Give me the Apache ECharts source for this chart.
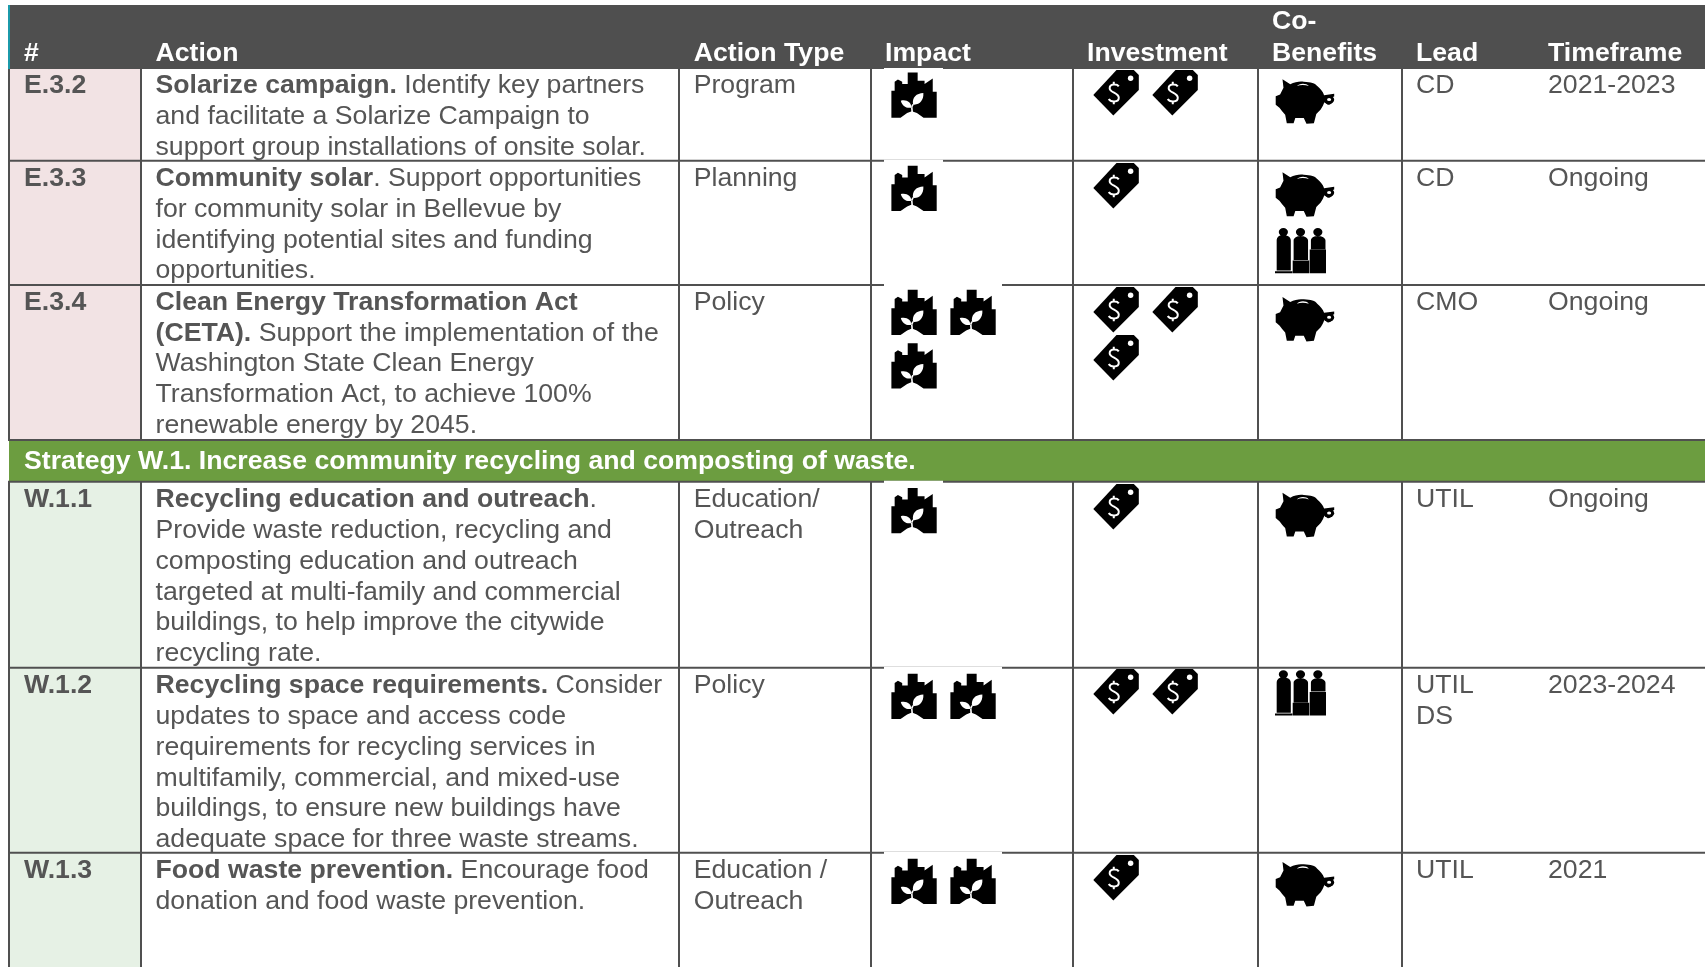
<!DOCTYPE html>
<html>
<head>
<meta charset="utf-8">
<style>html,body{margin:0;padding:0;background:#fff}#c{width:1705px;height:967px}</style>
<script src="https://cdn.jsdelivr.net/npm/echarts@6/dist/echarts.min.js"></script>
</head>
<body>
<div id="c"></div>
<script>
// ---- content ----
const headers = [['#'],['Action'],['Action Type'],['Impact'],['Investment'],['Co-','Benefits'],['Lead'],['Timeframe']];
const ids = ['E.3.2','E.3.3','E.3.4','W.1.1','W.1.2','W.1.3'];
const actions = [
  [['Solarize campaign.',' Identify key partners'],['','and facilitate a Solarize Campaign to'],['','support group installations of onsite solar.']],
  [['Community solar','. Support opportunities'],['','for community solar in Bellevue by'],['','identifying potential sites and funding'],['','opportunities.']],
  [['Clean Energy Transformation Act',''],['(CETA).',' Support the implementation of the'],['','Washington State Clean Energy'],['','Transformation Act, to achieve 100%'],['','renewable energy by 2045.']],
  [['Recycling education and outreach','.'],['','Provide waste reduction, recycling and'],['','composting education and outreach'],['','targeted at multi-family and commercial'],['','buildings, to help improve the citywide'],['','recycling rate.']],
  [['Recycling space requirements.',' Consider'],['','updates to space and access code'],['','requirements for recycling services in'],['','multifamily, commercial, and mixed-use'],['','buildings, to ensure new buildings have'],['','adequate space for three waste streams.']],
  [['Food waste prevention.',' Encourage food'],['','donation and food waste prevention.']]
];
const actionTypes = [['Program'],['Planning'],['Policy'],['Education/','Outreach'],['Policy'],['Education /','Outreach']];
const impactCounts = [1,1,3,1,2,2];
const investmentCounts = [2,1,3,1,2,1];
const coBenefits = [['pig'],['pig','people'],['pig'],['pig'],['people'],['pig']];
const leads = [['CD'],['CD'],['CMO'],['UTIL'],['UTIL','DS'],['UTIL']];
const timeframes = ['2021-2023','Ongoing','Ongoing','Ongoing','2023-2024','2021'];
const bandTitle = 'Strategy W.1. Increase community recycling and composting of waste.';

// ---- layout (canvas space of the hidden axes) ----
const W = 1705, H = 967;
const colX = [9,141,679,871,1073,1258,1402,1534];
const textX = [24,155.5,693.7,885,1087,1272,1416,1548];
const headTop = 5, headBottom = 69;
const rowTop = [69,160.7,285,481.7,667.7,852.7];
const rowBottom = [160.7,285,440,667.7,852.7,967];
const bandTop = 440, bandBottom = 481.7;
const lineGap = 30.8;
const firstLine = [16.9,18,17.4,18.2,18.2,18.2];
const impactDy = [2.7,4.3,4,5.5,5.3,5.3];
const investDy = [1,2.3,2,2.3,1.3,2.3];
const pigDy = [10.3,11.6,12,11,0,9.3];
const peopleDy = [0,67,0,0,2.3,0];
const C = {head:'#4f4f4f', teal:'#1b9aaa', line:'#505050', text:'#555555', pink:'#f2e3e4', green:'#e6f1e5', band:'#6c9d40'};
const FF = '"Liberation Sans", Arial, sans-serif';
const FS = 26.67;

// ---- icon shapes (each in a 0-100 box; the zero-length anchors fix the box) ----
const A = 'M0 0L0 0M100 100L100 100';
const circle = (x,y,r)=>`M${x-r} ${y}A${r} ${r} 0 1 1 ${x+r} ${y}A${r} ${r} 0 1 1 ${x-r} ${y}Z`;
const ICON = {
  city:{w:46,h:46,black:A+'M1.5 100L1.5 41.6L8.6 41.6L8.6 21.9L15.7 16.8L25 21.9L25 27L37 27L37 1.5L58.6 1.5L58.6 19.7L73.6 19.7L73.6 27L91.4 14.6L91.4 43.8L100 43.8L100 100L71.4 100L57 90L46 86L35.7 90L21.4 100Z',
    white:A+'M48.6 71.5C46 56 56 47 71 46.5C72 62 63 73 48.6 71.5ZM22 63C35 60 45 67 45 78C34 80 25 75 22 63ZM47 70L44 76L45 88L48.5 88L47.5 77L50 72Z'},
  tag:{w:45.5,h:45.5,black:A+'M51 0L89 0L100 11L100 44L44 100L0 55Z',
    white:A+circle(82,18,6),
    stroke:A+'M56 36C52 30 36 30 36 40C36 50 56 50 56 61C56 72 38 71 34 64M45 26L45 33M45 69L45 75'},
  pig:{w:58.5,h:44.5,black:A+'M11.6 0L24.9 11.4C33 5 42 4 48 5.3C60 6 68 9 71 15C76 20 81 28 82.7 35.6L100 32.6L100 38.6L97.7 40C98 46 97 50 96 53C93 57 90 58 88.4 56.8C86 55 85 51 84.4 47.7C82 56 80 62 76.9 68L69.4 78L65.3 98.5L52.6 100L48 87L33.5 87L30.6 98.5L19 98.5L16.2 79.5C12 74 9 68 6.4 64L0 57L0 38L7.5 34L13.3 19Z',
    extra:A+circle(91,46,9.5),
    white:A+circle(91.3,45.5,3.5)+'M36.4 15C39 9 52 7 56.6 15C50 12 42 12 36.4 15Z'},
  people:{w:51,h:45.6,black:A+circle(16.4,9.5,9)+circle(50,9.5,9)+circle(84,9.5,9)
    +'M3.3 94L3.3 28C3.3 20 9 16 16.4 16C25 16 31 21 31 28L31 94Z'
    +'M0 95.5L34 95.5L34 100L0 100Z'
    +'M36.5 71L36.5 28C36.5 22 43 18 50 18C58 18 64.8 22 64.8 28L64.8 71Z'
    +'M34.7 72L67 72L67 100L34.7 100Z'
    +'M70.4 47L70.4 28C70.4 22 76 18 84 18C92 18 99 22 99 28L99 47Z'
    +'M68 48L100 48L100 100L68 100Z', white:null}
};
const ICON_SLOT = 59, TAG_ROW = 48, CITY_ROW = 53.5;

// ---- helpers for the custom series ----
function xy(api,x,y){ return api.coord([x,y]); }
function rect(api,x0,y0,x1,y1,fill){
  const a = xy(api,x0,y0), b = xy(api,x1,y1);
  return {type:'rect',shape:{x:a[0],y:a[1],width:b[0]-a[0],height:b[1]-a[1]},style:{fill}};
}
function label(api,x,y,text,o){
  const p = xy(api,x,y);
  return {type:'text',style:Object.assign({x:p[0],y:p[1],text,fill:C.text,
    font:`${(o&&o.bold)?'bold ':''}${FS}px ${FF}`,verticalAlign:'middle',align:'left'},o&&o.fill?{fill:o.fill}:{})};
}
function richLine(api,x,y,parts){
  const p = xy(api,x,y);
  const t = (parts[0]?`{b|${parts[0]}}`:'')+(parts[1]?`{r|${parts[1]}}`:'');
  return {type:'text',style:{x:p[0],y:p[1],text:t,verticalAlign:'middle',align:'left',
    rich:{b:{fontFamily:FF,fontSize:FS,fontWeight:'bold',fill:C.text},
          r:{fontFamily:FF,fontSize:FS,fontWeight:'normal',fill:C.text}}}};
}
function icon(api,kind,x,y){
  const d = ICON[kind], a = xy(api,x,y), b = xy(api,x+d.w,y+d.h);
  const sh = s=>({pathData:s,x:a[0],y:a[1],width:b[0]-a[0],height:b[1]-a[1],layout:'cover'});
  const out = [{type:'path',shape:sh(d.black),style:{fill:'#000'}}];
  if(d.extra) out.push({type:'path',shape:sh(d.extra),style:{fill:'#000'}});
  if(d.white) out.push({type:'path',shape:sh(d.white),style:{fill:'#fff'}});
  if(d.stroke) out.push({type:'path',shape:sh(d.stroke),style:{fill:'none',stroke:'#fff',lineWidth:2}});
  return out;
}
const grp = children=>({type:'group',children});

// ---- renderers ----
function renderTable(params,api){
  const c = [];
  c.push(rect(api,colX[0],headTop,W,headBottom,C.head));
  c.push(rect(api,8,headTop,10,headBottom,C.teal));
  rowTop.forEach((t,i)=>c.push(rect(api,colX[0],t,colX[1],rowBottom[i],i<3?C.pink:C.green)));
  c.push(rect(api,colX[0],bandTop,W,bandBottom,C.band));
  // rules
  const hl = y=>c.push(rect(api,colX[0]-1,y-1,W,y+1,C.line));
  [rowTop[1],rowTop[2],bandTop,bandBottom,rowTop[4],rowTop[5]].forEach(hl);
  const vl = (x,y0,y1)=>c.push(rect(api,x-1,y0,x+1,y1,C.line));
  colX.slice(0,7).forEach((x,k)=>{
    vl(k===0?9:x,headBottom,bandTop);
    vl(k===0?9:x,bandBottom,H);
  });
  // blank halo round the impact pictures
  rowTop.forEach((t,i)=>{
    const n = Math.min(impactCounts[i],2);
    c.push(rect(api,884,t-1,884+ICON_SLOT*n,t+4,'#fff'));
  });
  return grp(c);
}
function renderRow(params,api){
  const i = api.value(0), c = [], t = rowTop[i], y0 = t+firstLine[i];
  c.push(label(api,textX[0],y0,ids[i],{bold:true}));
  actions[i].forEach((p,k)=>c.push(richLine(api,textX[1],y0+k*lineGap,p)));
  actionTypes[i].forEach((s,k)=>c.push(label(api,textX[2],y0+k*lineGap,s)));
  leads[i].forEach((s,k)=>c.push(label(api,textX[6],y0+k*lineGap,s)));
  c.push(label(api,textX[7],y0,timeframes[i]));
  // impact
  for(let k=0;k<impactCounts[i];k++){
    icon(api,'city',890.7+(k%2)*ICON_SLOT,t+impactDy[i]+Math.floor(k/2)*CITY_ROW).forEach(e=>c.push(e));
  }
  // investment
  for(let k=0;k<investmentCounts[i];k++){
    icon(api,'tag',1093.3+(k%2)*ICON_SLOT,t+investDy[i]+Math.floor(k/2)*TAG_ROW).forEach(e=>c.push(e));
  }
  // co-benefits
  coBenefits[i].forEach(kind=>{
    if(kind==='pig') icon(api,'pig',1275.7,t+pigDy[i]).forEach(e=>c.push(e));
    else icon(api,'people',1275,t+peopleDy[i]).forEach(e=>c.push(e));
  });
  return grp(c);
}
function renderHeader(params,api){
  const c = [];
  headers.forEach((h,k)=>{
    h.forEach((s,j)=>{
      const y = 53.2 - (h.length-1-j)*31.4;
      c.push(label(api,textX[k],y,s,{bold:true,fill:'#ffffff'}));
    });
  });
  c.push(label(api,textX[0],462,bandTitle,{bold:true,fill:'#ffffff'}));
  return grp(c);
}

const chart = echarts.init(document.getElementById('c'),null,{renderer:'canvas',width:W,height:H});
chart.setOption({
  animation:false,
  backgroundColor:'#ffffff',
  grid:{left:0,right:0,top:0,bottom:0,containLabel:false},
  xAxis:{type:'value',min:0,max:W,show:false},
  yAxis:{type:'value',min:0,max:H,inverse:true,show:false},
  series:[
    {type:'custom',coordinateSystem:'cartesian2d',silent:true,clip:false,renderItem:renderTable,data:[[0]],z:1},
    {type:'custom',coordinateSystem:'cartesian2d',silent:true,clip:false,renderItem:renderRow,data:ids.map((_,i)=>[i]),z:2},
    {type:'custom',coordinateSystem:'cartesian2d',silent:true,clip:false,renderItem:renderHeader,data:[[0]],z:3}
  ]
});
</script>
</body>
</html>
